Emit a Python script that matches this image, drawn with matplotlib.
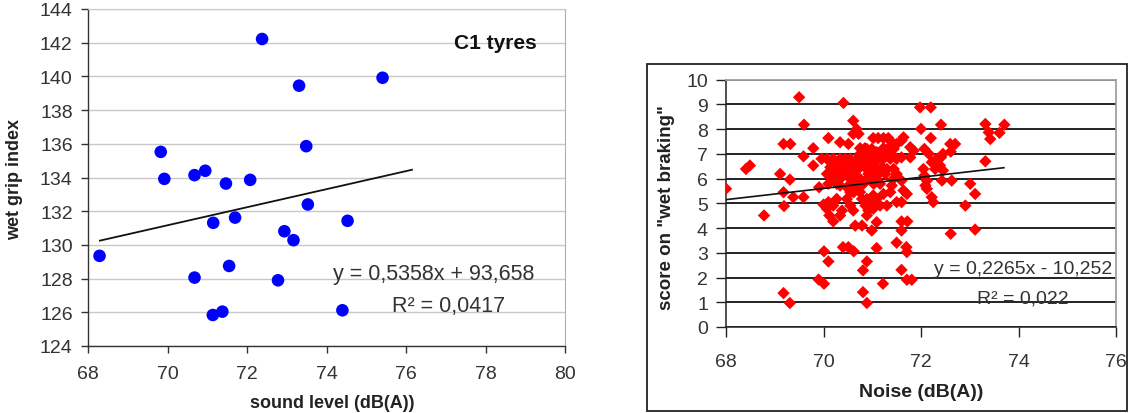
import matplotlib
matplotlib.use("Agg")
import matplotlib.pyplot as plt
from matplotlib.patches import Rectangle

plt.rcParams['font.family'] = ['Liberation Sans', 'DejaVu Sans']

# ---------------- Left chart data (C1 tyres) ----------------
c1_sound = [68.29, 69.83, 69.92, 70.68, 70.68, 70.95, 71.15, 71.14, 71.38, 71.47,
            71.55, 71.70, 72.08, 72.38, 72.78, 72.94, 73.17, 73.31, 73.49, 73.53,
            74.40, 74.53, 75.41]
c1_grip = [129.35, 135.52, 133.92, 134.14, 128.06, 134.40, 131.31, 125.84, 126.04, 133.64,
           128.75, 131.62, 133.86, 142.22, 127.90, 130.81, 130.28, 139.45, 135.86, 132.40,
           126.12, 131.43, 139.92]
c1_slope, c1_intercept = 0.5358, 93.658
c1_trend_x = [68.3, 76.15]
c1_eq = "y = 0,5358x + 93,658"
c1_r2 = "R\u00b2 = 0,0417"

# ---------------- Right chart data (wet braking vs noise) ----------------
wb_points = [
    (68.0, 5.59), (68.41, 6.39), (68.49, 6.53), (68.78, 4.51), (69.11, 6.19), (69.18, 7.40),
    (69.32, 7.40), (69.18, 5.45), (69.19, 4.89), (69.31, 5.96), (69.38, 5.25), (69.18, 1.37),
    (69.31, 0.97), (69.5, 9.29), (69.6, 8.18), (69.59, 6.9), (69.59, 5.25), (69.79, 7.23),
    (69.79, 6.53), (69.91, 5.65), (69.9, 1.92), (70.01, 1.75), (70.01, 3.06), (70.1, 2.65),
    (70.1, 7.64), (69.96, 6.8), (70.07, 6.8), (70.0, 4.95), (70.07, 4.78), (70.12, 4.51),
    (70.2, 4.27), (70.1, 5.05), (70.2, 6.26), (70.27, 6.06), (70.34, 7.47), (70.2, 6.8),
    (70.34, 6.8), (70.44, 6.8), (70.41, 9.06), (70.38, 4.71), (70.40, 3.23), (70.51, 3.23),
    (70.62, 3.06), (70.34, 5.72), (70.48, 5.65), (70.34, 6.39), (70.55, 4.91), (70.61, 4.71),
    (70.51, 7.40), (70.61, 8.34), (70.61, 7.81), (70.68, 8.0), (70.72, 7.81), (70.55, 6.53),
    (70.62, 6.66), (70.68, 6.39), (70.62, 5.45), (70.65, 4.1), (70.79, 4.1), (70.81, 2.29),
    (70.89, 2.65), (70.81, 1.41), (70.89, 0.97), (70.79, 5.18), (70.89, 5.18), (70.86, 4.91),
    (70.89, 4.51), (70.92, 4.71), (70.99, 4.98), (71.02, 4.78), (70.99, 3.9), (71.09, 4.24),
    (71.09, 3.19), (71.22, 1.75), (71.3, 4.91), (71.23, 5.38), (71.3, 6.39), (70.89, 7.2),
    (70.99, 7.2), (71.09, 7.07), (71.02, 7.64), (71.12, 7.64), (71.23, 7.64), (71.33, 7.64),
    (71.4, 7.47), (71.44, 7.2), (71.5, 7.4), (71.6, 7.54), (71.64, 7.67), (71.5, 6.8),
    (71.4, 5.72), (71.5, 5.05), (71.6, 5.05), (71.6, 5.92), (71.64, 5.52), (71.71, 5.38),
    (71.6, 3.9), (71.6, 4.27), (71.72, 4.27), (71.5, 3.41), (71.7, 3.23), (71.71, 3.03),
    (71.6, 2.31), (71.71, 1.91), (71.81, 1.91), (71.6, 6.86), (71.78, 7.27), (71.85, 7.13),
    (71.78, 6.86), (71.98, 8.88), (72.2, 8.88), (72.0, 8.01), (72.2, 7.64), (72.41, 8.18),
    (72.07, 7.2), (72.16, 7.0), (72.07, 6.12), (72.12, 5.92), (72.09, 5.72), (72.12, 5.59),
    (72.22, 5.25), (72.25, 5.05), (72.43, 5.92), (72.63, 5.92), (72.61, 7.09), (72.6, 7.4),
    (72.7, 7.4), (72.61, 3.77), (72.91, 4.91), (73.01, 5.79), (73.11, 5.38), (73.11, 3.94),
    (73.32, 8.21), (73.39, 7.87), (73.42, 7.6), (73.32, 6.7), (73.61, 7.85), (73.71, 8.18),
    (72.22, 6.66), (72.32, 6.8), (72.41, 6.86), (72.45, 7.0), (72.29, 6.39), (72.39, 6.53),
    (72.45, 6.33), (72.05, 6.39),
    (70.55, 6.8), (70.68, 6.8), (70.79, 6.8), (70.89, 6.8), (71.02, 6.8), (71.12, 6.8), (71.23, 6.8),
    (70.14, 6.46), (70.27, 6.46), (70.41, 6.46), (70.75, 6.46), (70.85, 6.46), (70.96, 6.46),
    (71.06, 6.46), (71.2, 6.46),
    (70.07, 6.19), (70.17, 6.19), (70.31, 6.19), (70.48, 6.19), (70.62, 6.19), (70.92, 6.19),
    (71.03, 6.19), (71.13, 6.19), (71.27, 6.19),
    (70.2, 5.99), (70.34, 5.99), (70.55, 5.99), (70.75, 5.99), (70.89, 5.99), (70.99, 5.99),
    (71.09, 5.99),
    (70.1, 5.79), (70.27, 5.79), (70.62, 5.79), (70.82, 5.79), (71.03, 5.79), (71.16, 5.79),
    (70.75, 7.0), (70.85, 7.0), (70.96, 7.0), (71.09, 7.0), (71.23, 7.0), (71.37, 7.0),
    (70.75, 7.23), (70.85, 7.23), (71.23, 7.23), (71.33, 7.23),
    (71.37, 6.8), (71.44, 6.39), (71.5, 6.19), (71.37, 5.45), (71.44, 6.0),
    (71.09, 5.18), (71.16, 4.91), (71.02, 5.32), (70.68, 5.72), (70.75, 5.45),
    (70.55, 5.45), (70.48, 5.18), (70.27, 5.18), (70.2, 4.91), (70.34, 4.51),
]
wb_noise = [p[0] for p in wb_points]
wb_score = [p[1] for p in wb_points]
wb_slope, wb_intercept = 0.2265, -10.252
wb_trend_x = [68.0, 73.7]
wb_eq = "y = 0,2265x - 10,252"
wb_r2 = "R\u00b2 = 0,022"

W, H = 1129, 414
fig = plt.figure(figsize=(W / 100, H / 100), dpi=100)
fig.patch.set_facecolor('white')

def fx(px):
    return px / W

def fy(py):
    return (H - py) / H

# ---------------- Left axes ----------------
ax1 = fig.add_axes([fx(88), fy(347), fx(565) - fx(88), fy(10) - fy(347)])
ax1.set_xlim(68, 80)
ax1.set_ylim(124, 144)
ax1.set_xticks(range(68, 81, 2))
ax1.set_yticks(range(124, 145, 2))
ax1.grid(axis='y', color='#c8c8c8', lw=1.0)
ax1.set_axisbelow(True)
for s in ['left', 'bottom']:
    ax1.spines[s].set_color('#333333')
    ax1.spines[s].set_linewidth(1.0)
ax1.spines['right'].set_color('#b0b0b0')
ax1.spines['top'].set_color('#c8c8c8')
ax1.tick_params(axis='both', direction='out', length=5, width=1, color='#333333',
                labelsize=14, labelcolor='#333333')
ax1.tick_params(axis='y', pad=6)
ax1.tick_params(axis='x', pad=9)
ax1.scatter(c1_sound, c1_grip, s=82, color='#0000ff', edgecolors='none', zorder=3)
ax1.plot(c1_trend_x, [c1_slope * x + c1_intercept for x in c1_trend_x],
         color='#111111', lw=1.3, zorder=4)
ax1.text(78.24, 142.0, "C1 tyres", fontsize=15, fontweight='bold', ha='center', va='center',
         color='#111111')
ax1.text(74.17, 128.3, c1_eq, fontsize=15.5, ha='left', va='center', color='#333333')
ax1.text(75.65, 126.4, c1_r2, fontsize=15.5, ha='left', va='center', color='#333333')
fig.text(fx(15), fy(180), "wet grip index", rotation=90, fontsize=13, fontweight='bold',
         ha='center', va='center', color='#222222')
fig.text(fx(332), fy(404), "sound level (dB(A))", fontsize=13, fontweight='bold',
         ha='center', va='center', color='#222222')

# ---------------- Right axes ----------------
ax2 = fig.add_axes([fx(726), fy(328), fx(1116) - fx(726), fy(80.7) - fy(328)])
ax2.set_xlim(68, 76)
ax2.set_ylim(0, 10)
ax2.set_xticks(range(68, 77, 2))
ax2.set_yticks(range(0, 11, 1))
ax2.grid(axis='y', color='#111111', lw=1.3)
ax2.set_axisbelow(True)
for s in ['left', 'bottom']:
    ax2.spines[s].set_color('#222222')
    ax2.spines[s].set_linewidth(1.1)
ax2.spines['right'].set_color('#a0a0a0')
ax2.spines['right'].set_linewidth(1.3)
ax2.spines['top'].set_color('#a0a0a0')
ax2.spines['top'].set_linewidth(1.3)
ax2.tick_params(axis='both', direction='out', length=7, width=1, color='#222222',
                labelsize=14, labelcolor='#333333')
ax2.tick_params(axis='y', pad=6)
ax2.tick_params(axis='x', pad=12)
ax2.scatter(wb_noise, wb_score, s=40, marker='D', color='#ff0000', edgecolors='none', zorder=3)
ax2.plot(wb_trend_x, [wb_slope * x + wb_intercept for x in wb_trend_x],
         color='#111111', lw=1.2, zorder=4)
ax2.text(72.26, 2.36, wb_eq, fontsize=14, ha='left', va='center', color='#333333', zorder=5)
ax2.text(73.15, 1.17, wb_r2, fontsize=14, ha='left', va='center', color='#333333', zorder=5)
fig.text(fx(667), fy(208), 'score on "wet braking"', rotation=90, fontsize=13.5,
         fontweight='bold', ha='center', va='center', color='#222222')
fig.text(fx(921), fy(393), "Noise (dB(A))", fontsize=14, fontweight='bold',
         ha='center', va='center', color='#222222')

fig.patches.append(Rectangle((fx(647), fy(412)), fx(1127) - fx(647), fy(64.7) - fy(412),
                             transform=fig.transFigure, fill=False, edgecolor='#222222',
                             lw=1.3))

fig.savefig("out.png", dpi=100)
